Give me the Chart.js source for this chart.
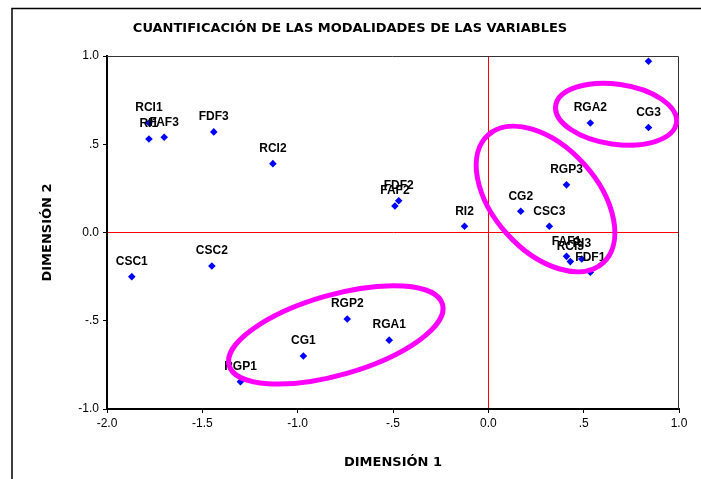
<!DOCTYPE html>
<html>
<head>
<meta charset="utf-8">
<script src="https://cdn.jsdelivr.net/npm/chart.js@4.4.1/dist/chart.umd.min.js"></script>
<style>
    body { margin: 0; background: #fff; }
    #wrap { width: 701px; height: 479px; position: relative; }
</style>
</head>
<body>
<div id="wrap"><canvas id="quantChart"></canvas></div>
<script>
// modalidades y sus coordenadas
const pointNames = ['RGA3', 'RGA2', 'CG3', 'RCI1', 'RI1', 'FAF3', 'FDF3', 'RCI2', 'FDF2', 'FAF2', 'RI2',
    'RGP3', 'CG2', 'CSC3', 'FAF1', 'RCI3', 'RI3', 'FDF1', 'CSC1', 'CSC2', 'RGP1', 'RGP2', 'RGA1', 'CG1'];
const dim1Values = [0.84, 0.535, 0.84, -1.78, -1.78, -1.70, -1.44, -1.13, -0.47, -0.49, -0.125,
    0.41, 0.17, 0.32, 0.41, 0.43, 0.49, 0.535, -1.87, -1.45, -1.30, -0.74, -0.52, -0.97];
const dim2Values = [0.97, 0.62, 0.595, 0.62, 0.53, 0.54, 0.57, 0.39, 0.18, 0.15, 0.035,
    0.27, 0.12, 0.035, -0.135, -0.165, -0.15, -0.225, -0.25, -0.19, -0.845, -0.49, -0.61, -0.70];

const xTickLabels = ['-2.0', '-1.5', '-1.0', '-.5', '0.0', '.5', '1.0'];
const yTickLabels = ['-1.0', '-.5', '0.0', '.5', '1.0'];

// grupos marcados (centro en unidades de los ejes)
const groupCenters = [[-0.80, -0.58], [0.30, 0.19], [0.67, 0.67]];
const groupShapes = [
    { rx: 111, ry: 40, rot: -16 },
    { rx: 86, ry: 52, rot: 48 },
    { rx: 61, ry: 30, rot: 8 }
];

const FONT = 'Arial, "Liberation Sans", sans-serif';
const HEAVY = '"DejaVu Sans", Arial, sans-serif';

const framePlugin = {
    id: 'frame',
    beforeDraw(chart) {
        const ctx = chart.ctx;
        ctx.save();
        ctx.fillStyle = '#fff';
        ctx.fillRect(0, 0, chart.width, chart.height);
        ctx.strokeStyle = '#000';
        ctx.lineWidth = 1.5;
        ctx.strokeRect(12, 8.5, chart.width + 20, chart.height + 20);
        ctx.fillStyle = '#000';
        ctx.font = 'bold 13px ' + HEAVY;
        ctx.textAlign = 'center';
        ctx.textBaseline = 'middle';
        ctx.fillText('CUANTIFICACIÓN DE LAS MODALIDADES DE LAS VARIABLES', 350, 29);
        ctx.restore();
    },
    afterDatasetsDraw(chart) {
        const ctx = chart.ctx;
        const area = chart.chartArea;
        const meta = chart.getDatasetMeta(0);
        ctx.save();
        // borde superior y derecho del area
        ctx.strokeStyle = '#333';
        ctx.lineWidth = 1;
        ctx.beginPath();
        ctx.moveTo(area.left, area.top + 0.5);
        ctx.lineTo(area.right - 0.5, area.top + 0.5);
        ctx.lineTo(area.right - 0.5, area.bottom);
        ctx.stroke();

        // etiquetas de los puntos
        ctx.beginPath();
        ctx.rect(area.left, area.top, area.right - area.left, area.bottom - area.top);
        ctx.clip();
        ctx.fillStyle = '#000';
        ctx.font = 'bold 12px ' + FONT;
        ctx.textAlign = 'center';
        ctx.textBaseline = 'middle';
        meta.data.forEach(function (pt, i) {
            ctx.fillText(pointNames[i], pt.x, pt.y - 15);
        });

        // elipses
        const xs = chart.scales.x, ys = chart.scales.y;
        ctx.strokeStyle = '#FF00FF';
        ctx.lineWidth = 5;
        groupCenters.forEach(function (c, i) {
            const g = groupShapes[i];
            ctx.beginPath();
            ctx.ellipse(xs.getPixelForValue(c[0]), ys.getPixelForValue(c[1]), g.rx, g.ry,
                g.rot * Math.PI / 180, 0, Math.PI * 2);
            ctx.stroke();
        });
        ctx.restore();
    }
};

function zeroLine(ctx) {
    return ctx.tick && ctx.tick.value === 0 ? '#FF0000' : 'rgba(0,0,0,0)';
}

function createScatter() {
    const ctx = document.getElementById('quantChart').getContext('2d');
    new Chart(ctx, {
        type: 'scatter',
        data: {
            datasets: [{
                data: pointNames.map((n, i) => ({ x: dim1Values[i], y: dim2Values[i] })),
                pointStyle: 'rectRot',
                pointRadius: 3.8,
                backgroundColor: '#0000FF',
                borderColor: '#0000FF',
                borderWidth: 0
            }]
        },
        options: {
            responsive: true,
            maintainAspectRatio: false,
            animation: false,
            layout: { padding: { left: 34, top: 56, right: 22, bottom: 0 } },
            plugins: {
                legend: { display: false },
                tooltip: { enabled: false },
                title: { display: false }
            },
            scales: {
                x: {
                    type: 'linear',
                    min: -2, max: 1,
                    afterFit: s => { s.height = 70; },
                    ticks: {
                        stepSize: 0.5,
                        color: '#000',
                        font: { size: 12, family: FONT },
                        padding: 3,
                        callback: (v, i) => xTickLabels[i]
                    },
                    grid: { color: zeroLine, tickColor: '#000', tickLength: 4, lineWidth: 1 },
                    border: { color: '#000', width: 2 },
                    title: {
                        display: true,
                        text: 'DIMENSIÓN 1',
                        color: '#000',
                        font: { size: 13, weight: 'bold', family: HEAVY },
                        padding: { top: 4, bottom: 9 }
                    }
                },
                y: {
                    type: 'linear',
                    min: -1, max: 1,
                    afterFit: s => { s.width = 73; },
                    ticks: {
                        stepSize: 0.5,
                        color: '#000',
                        font: { size: 12, family: FONT },
                        padding: 4,
                        callback: (v, i) => yTickLabels[i]
                    },
                    grid: { color: zeroLine, tickColor: '#000', tickLength: 4, lineWidth: 1 },
                    border: { color: '#000', width: 2 },
                    title: {
                        display: true,
                        text: 'DIMENSIÓN 2',
                        color: '#000',
                        font: { size: 13, weight: 'bold', family: HEAVY },
                        padding: { top: 6, bottom: 4 }
                    }
                }
            }
        },
        plugins: [framePlugin]
    });
}

createScatter();
</script>
</body>
</html>
